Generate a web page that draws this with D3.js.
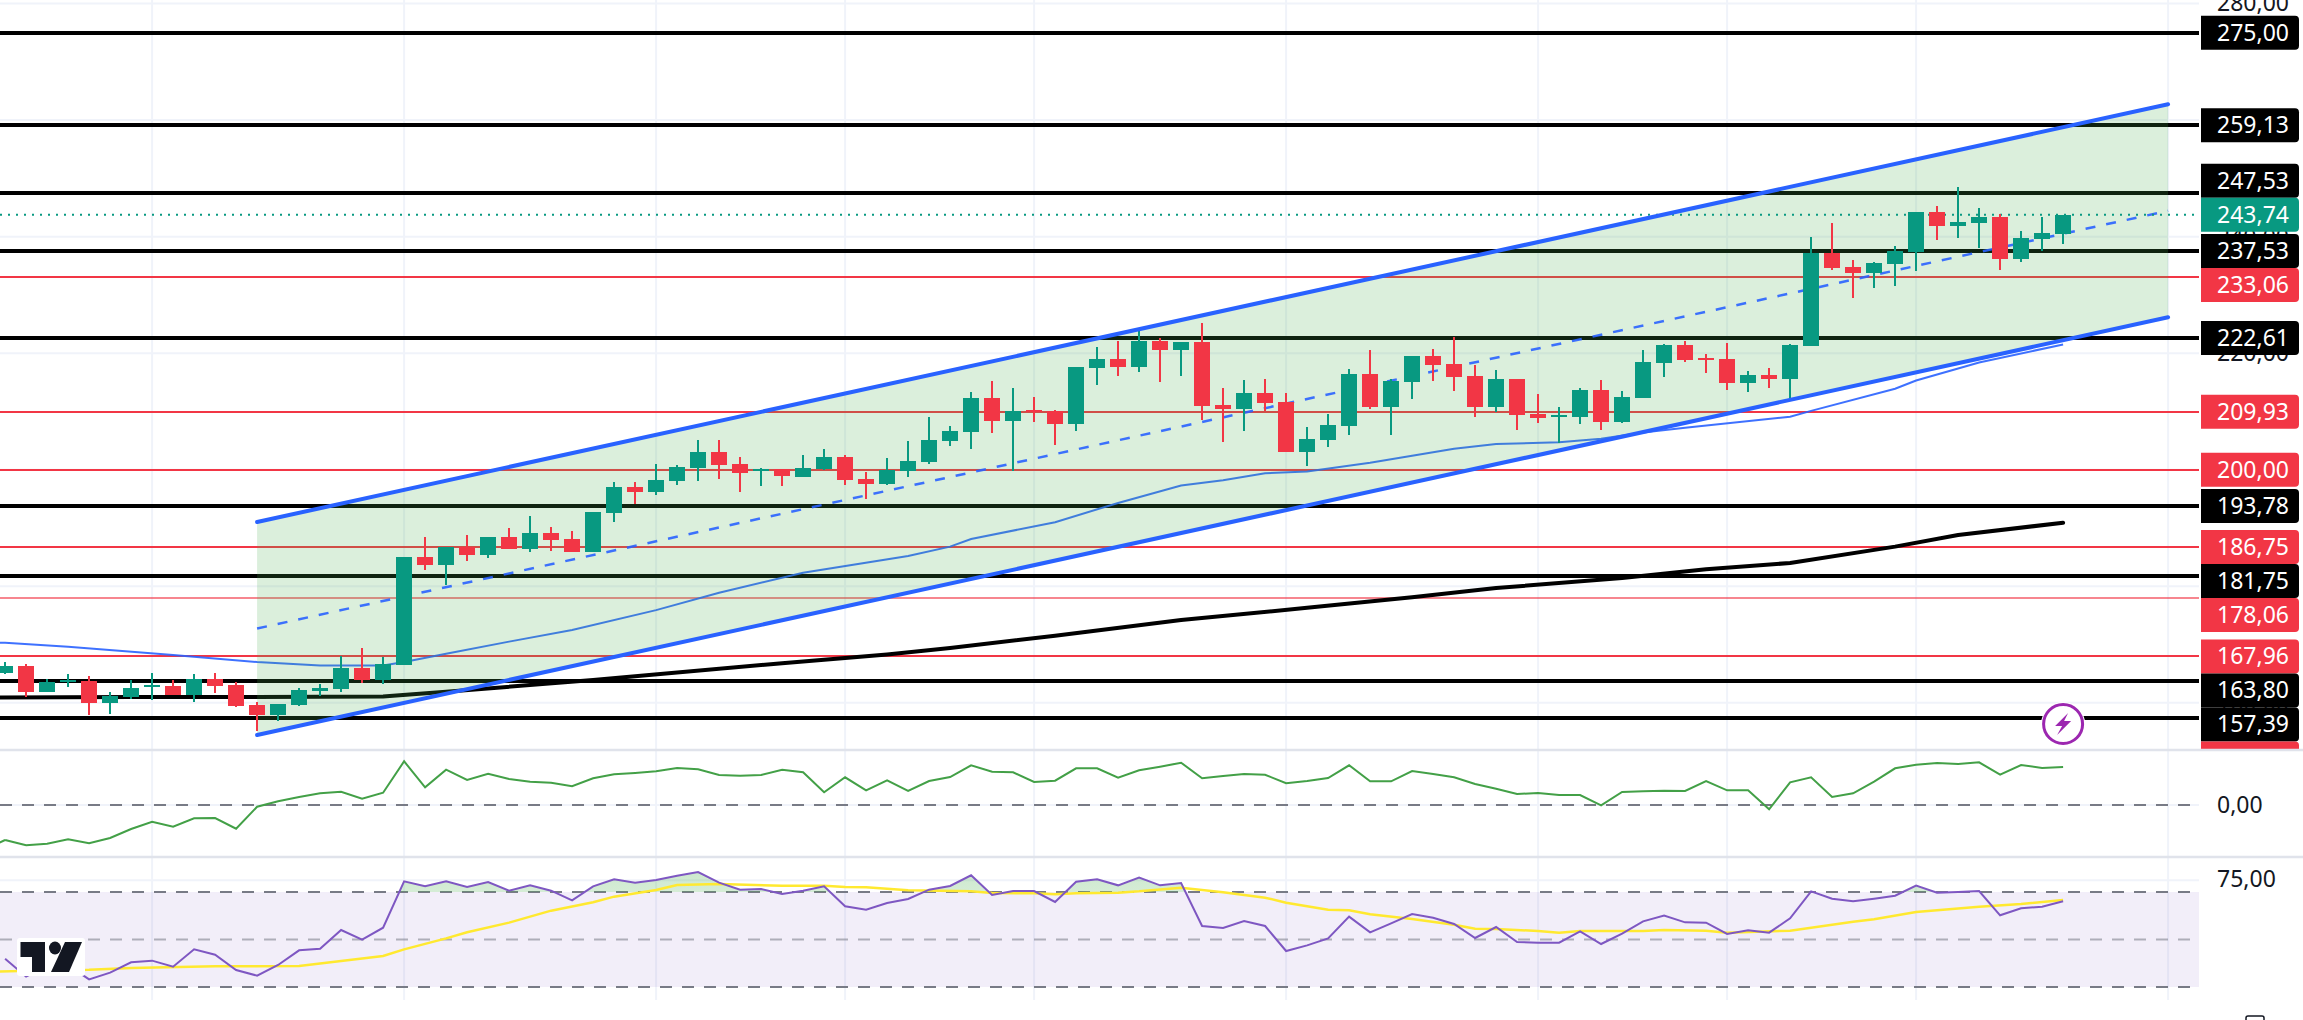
<!DOCTYPE html>
<html>
<head>
<meta charset="utf-8">
<script src="https://cdn.jsdelivr.net/npm/d3@7"></script>
<style>
  html, body { margin: 0; padding: 0; background: #fff; overflow: hidden; }
  svg { display: block; }
  text { font-family: "Noto Sans", Roboto, sans-serif; }
</style>
</head>
<body>
<svg id="chart" width="2303" height="1020"></svg>
<script>
// candles, one entry per bar
const opens = [165.05,166.31,161.85,163.56,163.73,159.96,160.99,162.71,162.88,161.33,
  164.08,163.05,159.62,157.90,159.62,162.02,162.36,165.97,163.91,166.48,
  185.02,183.64,186.73,185.36,188.45,186.39,189.14,188.11,185.88,192.58,
  197.04,196.18,198.07,200.30,203.05,200.99,199.78,200.13,198.75,200.13,
  202.19,198.41,197.55,199.78,201.33,204.93,206.47,212.31,208.36,210.25,
  210.07,207.84,217.46,219.00,217.63,222.09,220.55,221.92,211.11,210.42,
  213.17,211.62,203.04,205.10,207.50,216.43,210.76,215.05,219.52,218.14,
  216.08,210.76,215.57,209.56,209.05,209.05,213.68,208.19,212.31,218.32,
  221.40,219.17,219.00,214.88,216.26,215.57,221.23,237.19,234.79,233.76,
  235.31,237.37,244.23,241.83,242.34,243.37,236.16,239.60,240.46];
const highs = [166.94,166.65,164.02,164.94,164.59,161.85,163.91,165.11,163.91,164.94,
  165.11,163.56,160.13,159.79,162.53,163.22,168.03,169.40,167.85,185.02,
  188.45,186.73,188.79,188.45,189.99,192.05,190.17,189.48,192.74,197.90,
  197.90,200.99,200.81,205.10,205.10,202.19,200.30,200.13,202.53,203.56,
  202.53,199.61,202.02,204.93,209.05,207.51,213.34,215.22,214.02,212.48,
  210.25,217.63,221.06,222.09,223.98,222.61,221.92,225.18,214.02,215.40,
  215.57,213.17,207.33,209.56,217.28,220.55,215.57,219.52,220.72,222.78,
  217.97,217.11,215.57,212.99,210.76,214.02,215.40,213.51,220.55,221.58,
  222.09,219.86,221.75,216.94,217.46,221.58,239.94,242.34,235.99,235.65,
  238.40,244.23,245.26,248.52,244.92,243.89,240.97,243.37,243.74];
const lows = [164.94,161.05,161.85,162.71,157.90,158.07,160.65,160.47,161.33,160.13,
  161.68,159.27,155.15,156.87,159.44,161.16,161.85,163.39,163.22,166.48,
  182.79,180.21,184.33,184.85,186.39,185.88,186.05,185.88,185.88,191.03,
  194.12,195.67,197.38,198.07,198.41,196.18,197.21,197.21,198.75,199.96,
  197.38,194.98,197.38,198.75,200.99,204.08,203.55,206.30,199.78,208.19,
  204.24,206.64,214.54,216.08,216.77,215.05,216.08,208.53,204.76,206.64,
  210.08,203.04,200.64,203.90,205.96,210.42,205.96,212.14,215.23,213.51,
  209.05,209.90,206.82,208.02,204.58,207.85,206.82,208.02,212.31,215.91,
  218.49,216.60,213.68,213.34,214.02,212.14,221.23,234.28,229.47,231.19,
  231.53,234.11,239.43,239.77,238.05,234.28,235.65,237.54,238.74];
const closes = [166.31,161.85,163.56,163.91,159.96,161.16,162.53,163.05,161.33,164.08,
  162.88,159.44,157.90,159.79,162.19,162.53,165.97,163.91,166.65,185.02,
  183.64,186.73,185.36,188.45,186.39,189.14,187.93,185.88,192.74,197.04,
  196.18,198.24,200.47,203.05,200.81,199.44,200.13,198.93,200.30,202.19,
  198.24,197.55,199.96,201.50,205.10,206.65,212.31,208.36,210.07,209.90,
  207.84,217.63,219.00,217.63,222.09,220.55,221.92,210.93,210.42,213.17,
  211.45,203.04,205.27,207.67,216.43,210.76,215.23,219.52,217.97,215.91,
  210.76,215.57,209.39,208.87,209.39,213.68,208.19,212.48,218.49,221.40,
  218.83,218.83,214.88,216.26,215.57,221.40,237.19,234.62,233.76,235.48,
  237.54,244.23,241.83,242.52,243.37,236.16,239.77,240.63,243.74];

// support / resistance lines
const blackLevels = [275.00,259.13,247.53,237.53,222.61,193.78,181.75,163.80,157.39];
const redLevels = [233.06,209.93,200.00,186.75,178.06,167.96,150.47];
const fadedLevel = 178.06;
const lastPrice = 243.74;
const priceTicks = [280,260,240,220,200,180,160];

// channel ends
const channelBars = [12,103];
const channelTop = [191.03,262.71];
const channelBottom = [154.47,226.16];

// moving averages, read at the bars where the line bends
const ma50Bars = [-1,0,3,8,12,15,18,19,21,24,27,31,34,38,43,45,46,50,53,56,58,60,62,65,67,69,71,74,76,78,80,85,86,90,91,94,98];
const ma50Values = [170.4,170.3,169.6,168.2,167.0,166.4,166.4,167.0,168.4,170.5,172.5,175.9,178.9,182.3,185.2,186.8,188.1,191.0,194.3,197.3,198.2,199.4,199.7,201.2,202.4,203.6,204.4,204.7,205.3,206.4,207.2,209.1,210.1,213.9,215.3,218.4,221.5];
const ma200Bars = [-1,6,12,18,21,28,37,42,45,50,56,62,67,71,77,81,85,90,93,98];
const ma200Values = [160.9,161.0,161.0,161.1,161.9,163.9,166.8,168.3,169.4,171.5,174.2,176.3,178.1,179.7,181.4,182.9,184.0,186.8,188.8,190.9];

// lower panes
const macdValues = [-3.50,-4.03,-3.87,-3.43,-3.83,-3.30,-2.40,-1.67,-2.17,-1.33,
  -1.30,-2.37,-0.17,0.37,0.80,1.17,1.33,0.63,1.23,4.37,
  1.77,3.53,2.50,3.13,2.60,2.33,2.23,1.87,2.67,3.07,
  3.20,3.37,3.70,3.57,3.00,2.93,3.00,3.53,3.27,1.27,
  2.77,1.47,2.47,1.40,2.40,2.80,3.97,3.33,3.27,2.30,
  2.43,3.67,3.67,2.73,3.47,3.83,4.23,2.67,2.90,3.10,
  3.03,2.17,2.40,2.70,3.97,2.37,2.37,3.40,3.10,2.77,
  2.10,1.63,1.10,1.20,1.00,1.00,-0.03,1.30,1.37,1.43,
  1.40,2.40,1.47,1.47,-0.43,2.27,2.77,0.80,1.17,2.33,
  3.67,4.03,4.20,4.10,4.27,3.03,4.00,3.70,3.80];
const rsiValues = [41.93,34.35,38.84,39.12,33.23,36.04,40.39,41.09,38.56,45.86,
  43.61,37.16,34.77,39.26,45.44,46.14,54.00,49.93,54.98,74.49,
  72.39,74.49,72.11,74.21,70.56,72.81,70.56,66.49,72.39,75.33,
  73.93,75.05,76.88,78.42,73.93,70.98,71.26,69.16,70.56,72.39,
  63.96,62.56,65.37,67.05,70.98,72.53,77.02,68.74,70.42,70.42,
  65.79,74.35,75.33,72.81,76.04,72.81,73.79,55.68,54.84,57.79,
  55.68,45.16,47.54,50.49,59.61,53.02,56.81,60.74,59.19,56.53,
  50.63,55.26,48.95,48.67,48.67,53.44,48.11,52.46,57.65,60.04,
  57.23,57.09,52.32,53.86,52.88,58.91,70.28,67.19,66.07,67.19,
  68.46,72.67,69.72,70.00,70.42,60.18,63.12,63.82,66.07];
const rsiMaBars = [-1,2,4,6,10,14,16,18,19,21,22,24,26,28,29,31,32,34,37,39,40,41,43,46,47,49,50,51,53,54,56,58,60,61,63,64,65,67,69,70,71,73,74,75,78,79,81,82,85,88,89,91,94,96,98];
const rsiMaValues = [36.3,37.0,37.3,38.0,38.7,38.84,40.95,43.05,45.86,50.49,53.02,57.09,62.14,65.65,68.04,70.84,72.95,73.37,72.67,72.67,72.11,71.96,70.7,70.28,69.58,69.44,69.02,69.44,69.72,70.28,71.82,69.86,67.61,65.51,62.56,62.28,60.6,58.63,56.25,54.56,54.42,53.58,52.88,53.58,53.58,54.0,53.72,52.88,53.72,57.51,58.49,61.58,63.82,64.95,66.63];
const rsiLevels = [70,50,30];
const rsiTick = 75;
const gridBars = [7,19,31,40,49,61,73,82,91,103];

const green = "#089981", red = "#f23645", blue = "#2962ff", ink = "#131722";
const fmt = (v) => v.toFixed(2).replace(".", ",");

const plotRight = 2199;
const x = d3.scaleLinear().domain([0, 103]).range([5.1, 2168.1]);
const y = d3.scaleLinear().domain([275, 157.39]).range([32.7, 718]);
const macdY = d3.scaleLinear().domain([0, 1]).range([805, 795]);
const rsiY = d3.scaleLinear().domain([70, 30]).range([892, 987]);

const svg = d3.select("#chart");
const defs = svg.append("defs");
defs.append("clipPath").attr("id", "mainClip").append("rect")
  .attr("x", 0).attr("y", 0).attr("width", plotRight).attr("height", 749);
defs.append("clipPath").attr("id", "axisClip").append("rect")
  .attr("x", 2200).attr("y", 0).attr("width", 103).attr("height", 749);
defs.append("clipPath").attr("id", "aboveClip").append("rect")
  .attr("x", 0).attr("y", 857).attr("width", plotRight).attr("height", rsiY(70) - 857);
const obGrad = defs.append("linearGradient").attr("id", "obGrad")
  .attr("x1", 0).attr("x2", 0).attr("y1", 0).attr("y2", 1);
obGrad.append("stop").attr("offset", "0%").attr("stop-color", "#4caf50").attr("stop-opacity", 0.28);
obGrad.append("stop").attr("offset", "100%").attr("stop-color", "#4caf50").attr("stop-opacity", 0.03);

// grid
const grid = svg.append("g").attr("stroke", "#f0f3fa").attr("stroke-width", 2);
grid.selectAll(".v").data(gridBars).join("line")
  .attr("x1", (d) => x(d)).attr("x2", (d) => x(d)).attr("y1", 0).attr("y2", 1000);
grid.selectAll(".h").data(priceTicks).join("line")
  .attr("x1", 0).attr("x2", plotRight).attr("y1", (d) => y(d)).attr("y2", (d) => y(d));
grid.append("line").attr("x1", 0).attr("x2", plotRight).attr("y1", rsiY(rsiTick)).attr("y2", rsiY(rsiTick));
grid.append("line").attr("x1", 0).attr("x2", plotRight).attr("y1", macdY(0)).attr("y2", macdY(0));

const main = svg.append("g").attr("clip-path", "url(#mainClip)");

// levels
main.selectAll(".lvlB").data(blackLevels).join("line")
  .attr("x1", 0).attr("x2", plotRight)
  .attr("y1", (d) => Math.round(y(d))).attr("y2", (d) => Math.round(y(d)))
  .attr("stroke", "#000").attr("stroke-width", 4).attr("shape-rendering", "crispEdges");
main.selectAll(".lvlR").data(redLevels).join("line")
  .attr("x1", 0).attr("x2", plotRight)
  .attr("y1", (d) => Math.round(y(d))).attr("y2", (d) => Math.round(y(d)))
  .attr("stroke", red).attr("stroke-width", 2).attr("shape-rendering", "crispEdges")
  .attr("opacity", (d) => (d === fadedLevel ? 0.6 : 1));

// moving averages
const maLine = d3.line().x((d) => x(d[0])).y((d) => y(d[1]));
main.append("path").datum(d3.zip(ma200Bars, ma200Values)).attr("d", maLine)
  .attr("fill", "none").attr("stroke", "#000").attr("stroke-width", 4)
  .attr("stroke-linecap", "round").attr("stroke-linejoin", "round");
main.append("path").datum(d3.zip(ma50Bars, ma50Values)).attr("d", maLine)
  .attr("fill", "none").attr("stroke", blue).attr("stroke-width", 2).attr("opacity", 0.9);

// channel fill
const channel = d3.zip(channelBars, channelTop, channelBottom);
main.append("path").datum(channel)
  .attr("d", d3.area().x((d) => x(d[0])).y0((d) => y(d[1])).y1((d) => y(d[2])))
  .attr("fill", "rgba(76,175,80,0.2)");

// middle of the channel
main.append("path").datum(channel)
  .attr("d", d3.line().x((d) => x(d[0])).y((d) => y((d[1] + d[2]) / 2)))
  .attr("fill", "none").attr("stroke", blue).attr("stroke-width", 2.5)
  .attr("stroke-dasharray", "10,11.03").attr("opacity", 0.9);

// last price line
main.append("line").attr("x1", 0).attr("x2", plotRight)
  .attr("y1", y(lastPrice)).attr("y2", y(lastPrice))
  .attr("stroke", green).attr("stroke-width", 2).attr("stroke-dasharray", "2,6");

// candles
const bars = d3.range(opens.length);
const barColor = (i) => (closes[i] >= opens[i] ? green : red);
const candle = main.selectAll(".candle").data(bars).join("g").attr("class", "candle")
  .attr("shape-rendering", "crispEdges");
candle.append("rect")
  .attr("x", (i) => Math.round(x(i)) - 1)
  .attr("width", 2)
  .attr("y", (i) => y(highs[i]))
  .attr("height", (i) => y(lows[i]) - y(highs[i]))
  .attr("fill", barColor);
candle.append("rect")
  .attr("x", (i) => Math.round(x(i)) - 8)
  .attr("width", 16)
  .attr("y", (i) => y(Math.max(opens[i], closes[i])))
  .attr("height", (i) => Math.max(2, Math.abs(y(opens[i]) - y(closes[i]))))
  .attr("fill", barColor);

// channel edges
[channelTop, channelBottom].forEach((edge) => {
  main.append("path").datum(d3.zip(channelBars, edge)).attr("d", maLine)
    .attr("fill", "none").attr("stroke", blue).attr("stroke-width", 4)
    .attr("stroke-linecap", "round");
});

// lightning badge
const badge = svg.append("g").attr("transform", `translate(${x(98)},724)`);
badge.append("circle").attr("r", 22).attr("fill", "#fff");
badge.append("circle").attr("r", 19.5).attr("fill", "#fff").attr("stroke", "#9c27b0").attr("stroke-width", 3);
badge.append("path").attr("d", "M5,-11 L-8,2 L-1,2 L-6,11 L8,-3 L1,-3 Z").attr("fill", "#9c27b0");

// price axis, mostly hidden behind the level labels
const priceAxis = d3.axisRight(y).tickValues(priceTicks).tickSize(0).tickPadding(0).tickFormat(fmt);
const axisWrap = svg.append("g").attr("clip-path", "url(#axisClip)");
const axisG = axisWrap.append("g").attr("transform", "translate(2217,0)").call(priceAxis);
axisG.select(".domain").remove();
axisG.selectAll("text").attr("font-family", "Noto Sans").attr("font-size", 23).attr("fill", ink);

// level labels: stack around the last price so they do not overlap
const allLevels = blackLevels.concat(redLevels, [lastPrice]).sort((a, b) => b - a);
const anchor = allLevels.indexOf(lastPrice);
const labelH = 34;
const centers = allLevels.map((d) => y(d));
for (let i = anchor - 1; i >= 0; i--) centers[i] = Math.min(centers[i], centers[i + 1] - labelH);
for (let i = anchor + 1; i < allLevels.length; i++) centers[i] = Math.max(centers[i], centers[i - 1] + labelH);
const labelColor = (d) => (d === lastPrice ? green : redLevels.includes(d) ? red : "#000");
const label = axisWrap.selectAll(".lbl").data(allLevels).join("g").attr("class", "lbl");
label.append("path")
  .attr("d", (d, i) => {
    const t = centers[i] - labelH / 2;
    return `M2201,${t} H2295 a4,4 0 0 1 4,4 V${t + labelH - 4} a4,4 0 0 1 -4,4 H2201 Z`;
  })
  .attr("fill", labelColor);
label.append("text")
  .attr("x", 2217).attr("y", (d, i) => centers[i]).attr("dy", "0.35em")
  .attr("font-size", 23).attr("fill", "#fff").text(fmt);

// MACD pane
svg.append("line").attr("x1", 0).attr("x2", plotRight).attr("y1", macdY(0)).attr("y2", macdY(0))
  .attr("stroke", "#787b86").attr("stroke-width", 2).attr("stroke-dasharray", "12,10");
const lineX = d3.line().x((d, i) => x(i));
svg.append("path").datum(macdValues)
  .attr("d", lineX.y((d) => macdY(d)))
  .attr("fill", "none").attr("stroke", "#43a047").attr("stroke-width", 2);
svg.append("path").datum([macdValues[0] - 0.97, macdValues[0]])
  .attr("d", d3.line().x((d, i) => x(i - 1)).y((d) => macdY(d)))
  .attr("fill", "none").attr("stroke", "#43a047").attr("stroke-width", 2);

// RSI pane
svg.append("rect").attr("x", 0).attr("width", plotRight)
  .attr("y", rsiY(70)).attr("height", rsiY(30) - rsiY(70))
  .attr("fill", "rgba(126,87,194,0.1)");
svg.selectAll(".rsiLvl").data(rsiLevels).join("line")
  .attr("x1", 0).attr("x2", plotRight).attr("y1", (d) => rsiY(d)).attr("y2", (d) => rsiY(d))
  .attr("stroke", "#787b86").attr("stroke-width", 2).attr("stroke-dasharray", "12,10")
  .attr("opacity", (d) => (d === 50 ? 0.55 : 1));
svg.append("path").datum(rsiValues)
  .attr("d", d3.area().x((d, i) => x(i)).y0(rsiY(70)).y1((d) => rsiY(d)))
  .attr("fill", "url(#obGrad)").attr("clip-path", "url(#aboveClip)");
svg.append("path").datum(d3.zip(rsiMaBars, rsiMaValues))
  .attr("d", d3.line().x((d) => x(d[0])).y((d) => rsiY(d[1])))
  .attr("fill", "none").attr("stroke", "#ffe930").attr("stroke-width", 2.5);
svg.append("path").datum(rsiValues)
  .attr("d", d3.line().x((d, i) => x(i)).y((d) => rsiY(d)))
  .attr("fill", "none").attr("stroke", "#7e57c2").attr("stroke-width", 2);

// pane tick labels
svg.append("text").attr("x", 2217).attr("y", macdY(0)).attr("dy", "0.35em")
  .attr("font-size", 23).attr("fill", ink).text(fmt(0));
svg.append("text").attr("x", 2217).attr("y", rsiY(rsiTick) - 1).attr("dy", "0.35em")
  .attr("font-size", 23).attr("fill", ink).text(fmt(rsiTick));

// pane separators
svg.selectAll(".sep").data([750, 857]).join("line")
  .attr("x1", 0).attr("x2", 2303).attr("y1", (d) => d).attr("y2", (d) => d)
  .attr("stroke", "#e0e3eb").attr("stroke-width", 2.5);

// logo
const logo = svg.append("g");
logo.append("rect").attr("x", 17).attr("y", 938).attr("width", 68).attr("height", 38).attr("rx", 3).attr("fill", "#fff");
logo.append("path").attr("d", "M20.5,942 H45 V972 H32 V957 H20.5 Z").attr("fill", ink);
logo.append("ellipse").attr("cx", 55).attr("cy", 948).attr("rx", 6).attr("ry", 6.5).attr("fill", ink);
logo.append("path").attr("d", "M65,942 H82 L69,972 H51 Z").attr("fill", ink);

// corner of the time axis button
svg.append("path").attr("d", "M2246,1020 V1018 a2,2 0 0 1 2,-2 H2262 a2,2 0 0 1 2,2 V1020")
  .attr("fill", "none").attr("stroke", ink).attr("stroke-width", 1.5);
</script>
</body>
</html>
